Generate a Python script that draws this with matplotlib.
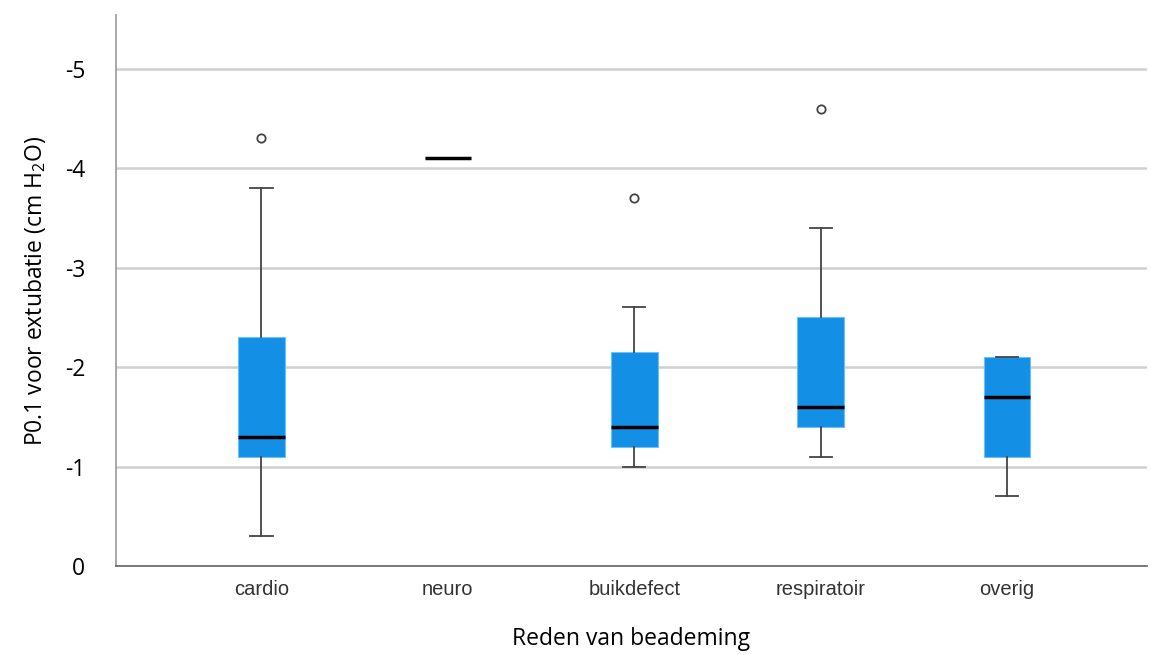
import matplotlib.pyplot as plt

# Boxplot-statistieken per reden van beademing (waarden in cm H2O, negatief)
categories = ["cardio", "neuro", "buikdefect", "respiratoir", "overig"]
whislo = [-0.3, -4.1, -1.0, -1.1, -0.7]
q1 = [-1.1, -4.1, -1.2, -1.4, -1.1]
med = [-1.3, -4.1, -1.4, -1.6, -1.7]
q3 = [-2.3, -4.1, -2.15, -2.5, -2.1]
whishi = [-3.8, -4.1, -2.6, -3.4, -2.1]
fliers = [[-4.3], [], [-3.7], [-4.6], []]

yticks = [0, -1, -2, -3, -4, -5]
ytick_labels = ["0", "-1", "-2", "-3", "-4", "-5"]

plt.rcParams['font.family'] = ['Open Sans', 'DejaVu Sans']
plt.rcParams['mathtext.fontset'] = 'custom'
plt.rcParams['mathtext.rm'] = 'Open Sans'

fig = plt.figure(figsize=(11.51, 6.55), dpi=100)
ax = fig.add_axes([0.1008, 0.1359, 0.8957, 0.8411])

stats = []
for i, c in enumerate(categories):
    stats.append(dict(label=c, whislo=whislo[i], q1=q1[i], med=med[i],
                      q3=q3[i], whishi=whishi[i], fliers=fliers[i]))

ax.bxp(stats, positions=range(len(categories)), widths=0.25,
       patch_artist=True, showfliers=True,
       boxprops=dict(facecolor='#1390e6', edgecolor='#6cc0f5', linewidth=0.8),
       medianprops=dict(color='black', linewidth=2.5),
       whiskerprops=dict(color='#444444', linewidth=1.3),
       capprops=dict(color='#444444', linewidth=1.3),
       capwidths=0.12,
       flierprops=dict(marker='o', markersize=6, markerfacecolor='white',
                       markeredgecolor='#444444', markeredgewidth=1.3))

ax.set_xlim(-0.78, 4.75)
ax.set_ylim(0, -5.54)
ax.set_yticks(yticks)
ax.set_yticklabels(ytick_labels, fontsize=16.5)
ax.set_xticks(range(len(categories)))
ax.set_xticklabels(categories, fontsize=14.5, color='#333333',
                   family=['Liberation Sans', 'DejaVu Sans'])
ax.tick_params(axis='both', length=0)
ax.tick_params(axis='y', pad=22)
ax.tick_params(axis='x', pad=10)

ax.grid(axis='y', color='#d0d0d0', linewidth=1.8)
ax.set_axisbelow(True)
for s in ['top', 'right']:
    ax.spines[s].set_visible(False)
ax.spines['left'].set_color('#999999')
ax.spines['left'].set_linewidth(1.2)
ax.spines['bottom'].set_color('#666666')
ax.spines['bottom'].set_linewidth(1.2)

ax.set_ylabel(r"P0.1 voor extubatie (cm H$_2$O)", fontsize=16.5, labelpad=12)
ax.set_xlabel("Reden van beademing", fontsize=16.5, labelpad=20)

fig.savefig("out.png", dpi=100)
